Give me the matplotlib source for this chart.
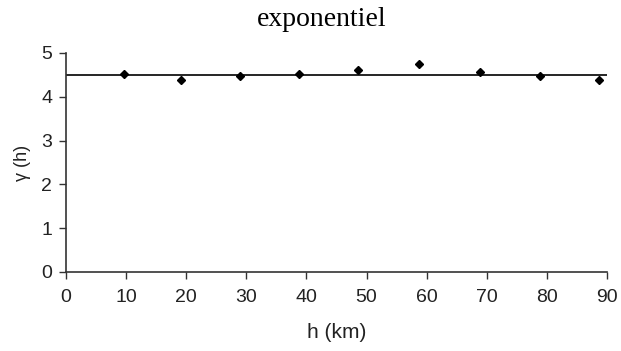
import matplotlib
matplotlib.use("Agg")
import matplotlib.pyplot as plt

h_km = [9.7, 19.1, 29.0, 38.7, 48.6, 58.7, 68.9, 78.8, 88.7]
gamma = [4.52, 4.39, 4.48, 4.52, 4.62, 4.75, 4.56, 4.48, 4.39]
model_h = [0, 90]
model_gamma = [4.5, 4.5]
x_ticks = [0, 10, 20, 30, 40, 50, 60, 70, 80, 90]
y_ticks = [0, 1, 2, 3, 4, 5]

fig = plt.figure(figsize=(6.21, 3.51), dpi=100)
ax = fig.add_axes([66/621, 1-272/351, (607-66)/621, (272-53)/351])

ax.plot(model_h, model_gamma, color="black", lw=1.2, zorder=2)
ax.plot(h_km, gamma, linestyle="none", marker="D", markersize=4, color="black", zorder=3)

ax.set_xlim(0, 90)
ax.set_ylim(0, 5)
ax.set_xticks(x_ticks)
ax.set_yticks(y_ticks)
for s in ["top", "right"]:
    ax.spines[s].set_visible(False)
for s in ["left", "bottom"]:
    ax.spines[s].set_color("#333333")
    ax.spines[s].set_linewidth(1.2)
ax.tick_params(direction="out", length=5, width=1, colors="#333333",
               labelsize=14, labelcolor="#222222", pad=5)
ax.tick_params(axis="x", pad=7)
for lab in ax.get_xticklabels() + ax.get_yticklabels():
    lab.set_family("Liberation Sans")

ax.set_xlabel("h (km)", family="Liberation Sans", fontsize=15, color="#222222")
ax.set_ylabel("γ (h)", family="Liberation Sans", fontsize=13, color="#222222")
ax.xaxis.set_label_coords(0.5, -(333-272)/(272-53), transform=ax.transAxes)
ax.yaxis.set_label_coords(-(66-23)/(607-66), 0.5, transform=ax.transAxes)
ax.xaxis.label.set_va("center")
ax.yaxis.label.set_va("center")
fig.text(322/621, 1-20/351, "exponentiel", family="Liberation Serif", fontsize=20,
         ha="center", va="center")

fig.savefig("out.png", dpi=100)
